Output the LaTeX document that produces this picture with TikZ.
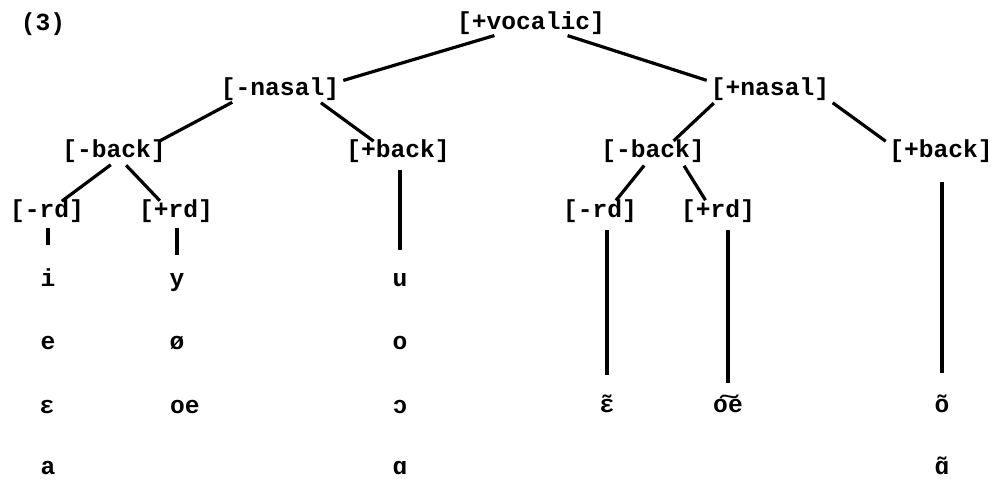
\documentclass[tikz,border=0pt]{standalone}
\usepackage{fontspec}
\setmainfont{Liberation Mono}
\newcommand\nasv[1]{\ooalign{#1\cr\hidewidth ˜\hidewidth\cr}}
\begin{document}
\begin{tikzpicture}[x=0.5pt,y=-0.5pt]
  \useasboundingbox (0,0) rectangle (996,480);

      \begin{scope}[every node/.style={anchor=base,inner sep=0pt,text height=7pt,text depth=2pt,font=\fontsize{12.3}{14}\selectfont\bfseries}]
        \node (num)  at (43,31)   {(3)};
        \node (voc)  at (531,30)  {[+vocalic]};
        \node (mnas) at (280,96)  {[-nasal]};
        \node (pnas) at (770,96)  {[+nasal]};
        \node (mbk1) at (114,158) {[-back]};
        \node (pbk1) at (398,158) {[+back]};
        \node (mbk2) at (653,158) {[-back]};
        \node (pbk2) at (941,158) {[+back]};
        \node (mrd1) at (47,218)  {[-rd]};
        \node (prd1) at (176,218) {[+rd]};
        \node (mrd2) at (600,218) {[-rd]};
        \node (prd2) at (718,218) {[+rd]};
        % oral vowels
        \node (i)    at (48,287)  {i};
        \node (e)    at (48,350)  {e};
        \node (eps)  at (47,414)  {ɛ};
        \node (a)    at (48,474)  {a};
        \node (y)    at (177,287) {y};
        \node (oslash) at (177,350) {ø};
        \node (oe)   at (185,414) {oe};
        \node (u)    at (400,287) {u};
        \node (o)    at (400,350) {o};
        \node (oo)   at (400,414) {ɔ};
        \node (alpha) at (400,474) {ɑ};
        % nasal vowels
        \node (neps) at (607,413) {\nasv{ɛ}};
        \node (noe)  at (728,413) {o͠e};
        \node (no)   at (942,413) {õ};
        \node (nalpha) at (942,474) {\nasv{ɑ}};
      \end{scope}

      \begin{scope}[every edge/.style={draw,line width=1.6pt,shorten <=2pt,shorten >=2pt}]
        \path (voc.196)  edge (mnas.north east);
        \path (voc.344)  edge (pnas.north west);
        \path (mnas.192) edge (mbk1.13);
        \path (mnas.346) edge (pbk1.156);
        \path (pnas.190) edge (mbk2.28);
        \path (pnas.south east) edge (pbk2.north west);
        \path (mbk1.south) edge (mrd1.39);
        \path (mbk1.315) edge (prd1.145);
        \path (mbk2.236) edge (mrd2.35);
        \path (mbk2.342) edge (prd2.138);
        \path (i.north |- mrd1.south)    edge[shorten <=3pt,shorten >=14pt] (i.north);
        \path (y.north |- prd1.south)    edge[shorten <=3pt,shorten >=9pt] (y.north);
        \path (u.north |- pbk1.south)    edge[shorten <=4pt,shorten >=11.5pt] (u.north);
        \path (neps.north |- mrd2.south) edge[shorten <=4pt,shorten >=12pt] (neps.north);
        \path (noe.north |- prd2.south)  edge[shorten <=4pt,shorten >=8pt] (noe.north);
        \path (no.north |- pbk2.south)   edge[shorten <=10pt,shorten >=13pt] (no.north);
      \end{scope}

\end{tikzpicture}
\end{document}
